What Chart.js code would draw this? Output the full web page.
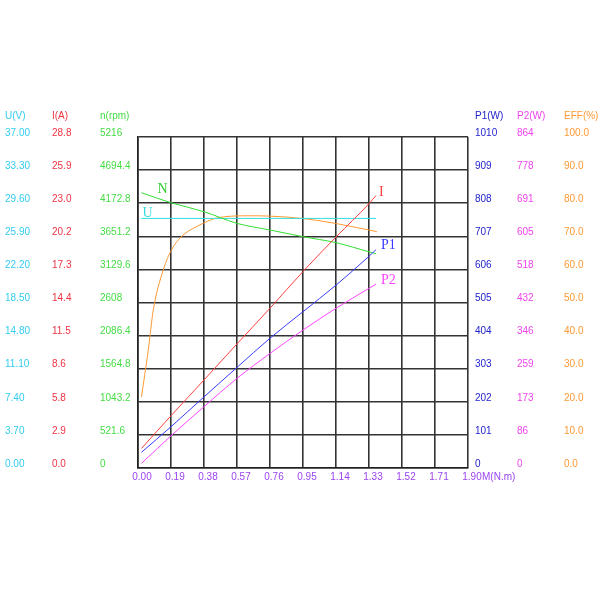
<!DOCTYPE html>
<html>
<head>
<meta charset="utf-8">
<script src="https://cdn.jsdelivr.net/npm/chart.js@4"></script>
<style>
  html, body { margin: 0; padding: 0; background: #fff; }
  #wrap { width: 600px; height: 600px; }
</style>
</head>
<body>
<div id="wrap"><canvas id="chart" width="600" height="600"></canvas></div>
<script>
// torque axis, N.m
const torqueTicks = [0, 0.19, 0.38, 0.57, 0.76, 0.95, 1.14, 1.33, 1.52, 1.71, 1.90];
const torqueLabels = ["0.00", "0.19", "0.38", "0.57", "0.76", "0.95", "1.14", "1.33", "1.52", "1.71", "1.90"];

// tick labels of the six value scales (bottom to top)
const uLabels = ["0.00", "3.70", "7.40", "11.10", "14.80", "18.50", "22.20", "25.90", "29.60", "33.30", "37.00"];
const iLabels = ["0.0", "2.9", "5.8", "8.6", "11.5", "14.4", "17.3", "20.2", "23.0", "25.9", "28.8"];
const nLabels = ["0", "521.6", "1043.2", "1564.8", "2086.4", "2608", "3129.6", "3651.2", "4172.8", "4694.4", "5216"];
const p1Labels = ["0", "101", "202", "303", "404", "505", "606", "707", "808", "909", "1010"];
const p2Labels = ["0", "86", "173", "259", "346", "432", "518", "605", "691", "778", "864"];
const effLabels = ["0.0", "10.0", "20.0", "30.0", "40.0", "50.0", "60.0", "70.0", "80.0", "90.0", "100.0"];

// measured curves
const torque = [0.02, 0.19, 0.38, 0.57, 0.76, 0.95, 1.14, 1.33, 1.37];
const current = [1.7, 4.55, 7.66, 10.8, 13.9, 17.1, 20.1, 23.0, 23.7];
const inputPower = [48, 126, 217, 307, 396, 477, 558, 646, 666];
const outputPower = [12, 84, 160, 234, 299, 360, 417, 469, 480];
const speed = [4338, 4180, 4039, 3855, 3750, 3645, 3551, 3407, 3378];
const voltage = [27.9, 27.9, 27.9, 27.9, 27.9, 27.9, 27.9, 27.9, 27.9];

const effTorque = [0.02, 0.04, 0.059, 0.088, 0.145, 0.193, 0.25, 0.336, 0.47, 0.64, 0.756, 0.946, 1.137, 1.375];
const efficiency = [21.5, 28.6, 35.6, 47.7, 59.8, 65.9, 69.9, 72.9, 75.7, 76.2, 76.1, 75.4, 73.9, 71.4];

const pts = (xs, ys) => xs.map((x, i) => ({ x, y: ys[i] }));

const axisDefs = [
  { id: "yU", max: 37, labels: uLabels, title: "U(V)", x: 5, color: "#33ccee" },
  { id: "yI", max: 28.8, labels: iLabels, title: "I(A)", x: 52, color: "#ee3344" },
  { id: "yN", max: 5216, labels: nLabels, title: "n(rpm)", x: 100, color: "#44dd44" },
  { id: "yP1", max: 1010, labels: p1Labels, title: "P1(W)", x: 475, color: "#2222cc" },
  { id: "yP2", max: 864, labels: p2Labels, title: "P2(W)", x: 517, color: "#ee44ee" },
  { id: "yE", max: 100, labels: effLabels, title: "EFF(%)", x: 564, color: "#ff9933" }
];

const scales = {
  x: {
    type: "linear", min: 0, max: 1.9,
    afterBuildTicks: axis => { axis.ticks = torqueTicks.map(v => ({ value: v })); },
    ticks: { display: false },
    grid: { color: "#333", lineWidth: 1.6, drawTicks: false },
    border: { color: "#222", width: 1.6 }
  }
};
axisDefs.forEach((a, k) => {
  scales[a.id] = {
    type: "linear", min: 0, max: a.max, display: k === 0,
    afterBuildTicks: axis => { axis.ticks = a.labels.map((_, i) => ({ value: a.max * i / 10 })); },
    ticks: { display: false },
    grid: { color: "#333", lineWidth: 1.6, drawTicks: false },
    border: { color: "#222", width: 1.6 }
  };
});

const lineDs = (label, data, color, axis) => ({
  label, data, yAxisID: axis,
  borderColor: color, borderWidth: 1, pointRadius: 0,
  fill: false, cubicInterpolationMode: "monotone"
});

const datasets = [
  lineDs("I", pts(torque, current), "#ff4040", "yI"),
  lineDs("P1", pts(torque, inputPower), "#3a3aff", "yP1"),
  lineDs("P2", pts(torque, outputPower), "#ff44ff", "yP2"),
  lineDs("N", pts(torque, speed), "#33dd33", "yN"),
  lineDs("U", pts(torque, voltage), "#33dddd", "yU"),
  lineDs("EFF", pts(effTorque, efficiency), "#ff9933", "yE")
];

// curve names: [dataset, use last point?, dx, dy, color]
const curveTags = [
  ["I", true, 3, -3, "#ff4040"],
  ["P1", true, 5, -4, "#3a3aff"],
  ["P2", true, 5, -4, "#ff44ff"],
  ["N", false, 16, -3, "#33cc33"],
  ["U", false, 1, -5, "#33dddd"]
];

const sideLabels = {
  id: "sideLabels",
  afterDraw(chart) {
    const ctx = chart.ctx;
    ctx.save();
    ctx.font = "10px 'Liberation Sans', sans-serif";
    ctx.textBaseline = "middle";
    ctx.textAlign = "left";
    axisDefs.forEach(a => {
      const sc = chart.scales[a.id];
      ctx.fillStyle = a.color;
      ctx.fillText(a.title, a.x, 116);
      a.labels.forEach((t, i) => {
        ctx.fillText(t, a.x, sc.getPixelForValue(a.max * i / 10) - 4);
      });
    });
    const xs = chart.scales.x;
    ctx.fillStyle = "#9944ee";
    ctx.textAlign = "center";
    torqueTicks.forEach((v, i) => {
      ctx.fillText(torqueLabels[i], xs.getPixelForValue(v) + 4, 477);
    });
    ctx.textAlign = "left";
    ctx.fillText("M(N.m)", xs.getPixelForValue(1.9) + 14, 477);

    ctx.font = "14px 'Liberation Serif', serif";
    curveTags.forEach(([name, last, dx, dy, color]) => {
      const di = chart.data.datasets.findIndex(d => d.label === name);
      const meta = chart.getDatasetMeta(di);
      const p = meta.data[last ? meta.data.length - 1 : 0];
      ctx.fillStyle = color;
      ctx.fillText(name, p.x + dx, p.y + dy);
    });
    ctx.restore();
  }
};

new Chart(document.getElementById("chart"), {
  type: "line",
  data: { datasets },
  options: {
    responsive: false,
    animation: false,
    layout: { padding: { left: 138, top: 137, right: 132, bottom: 132 } },
    plugins: { legend: { display: false }, tooltip: { enabled: false } },
    scales
  },
  plugins: [sideLabels]
});
</script>
</body>
</html>
